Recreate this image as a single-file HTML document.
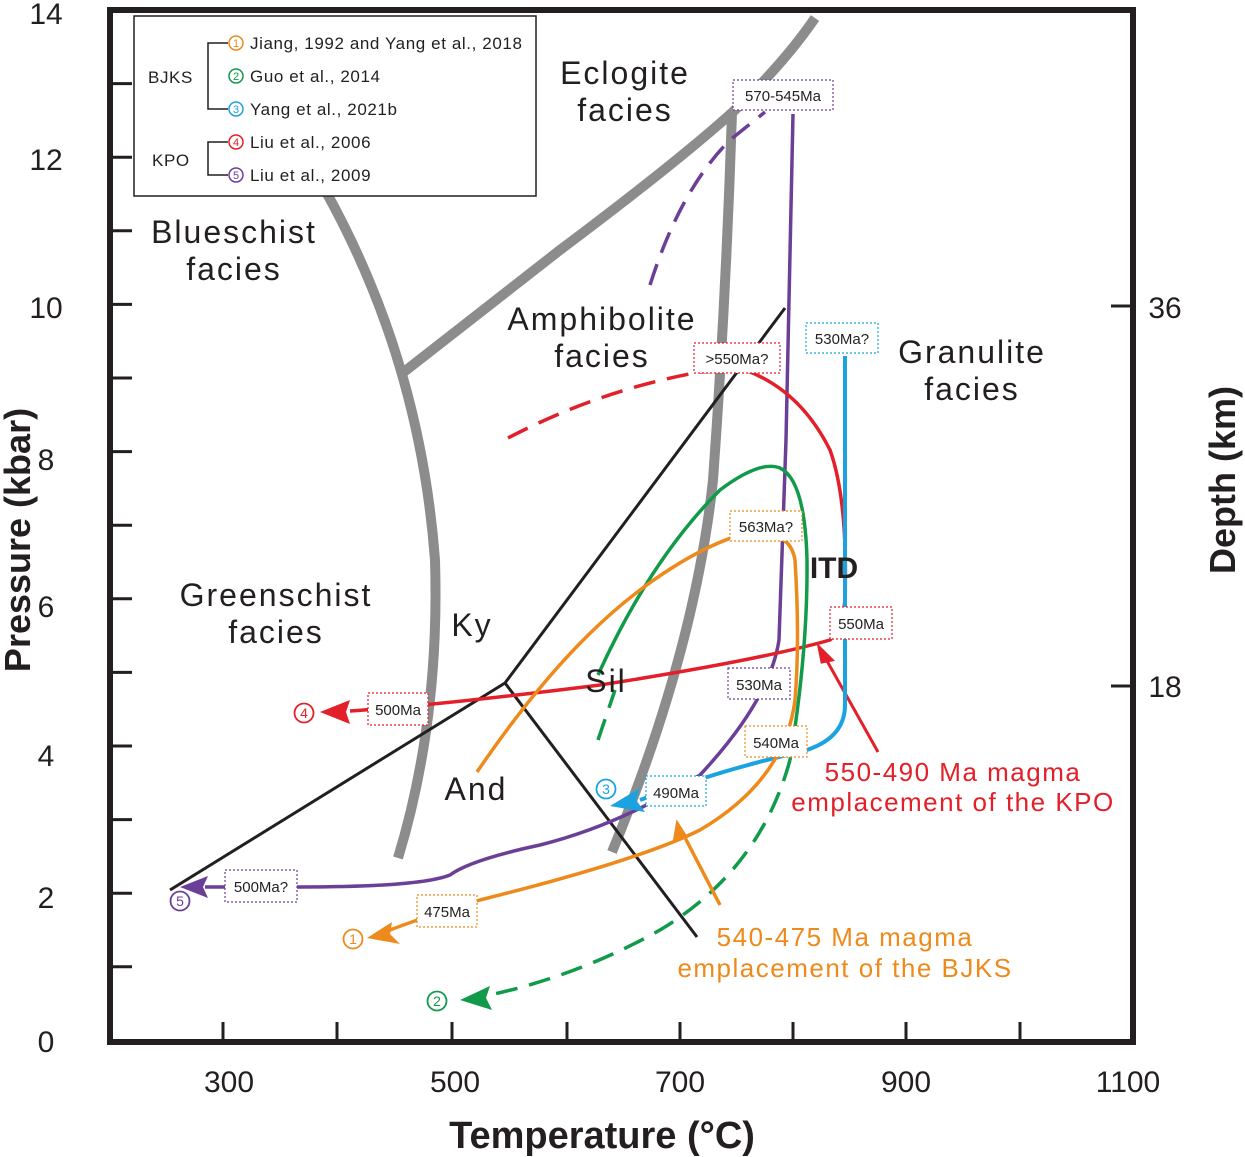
<!DOCTYPE html>
<html><head><meta charset="utf-8"><style>
html,body{margin:0;padding:0;background:#fff;}
svg{display:block;font-family:"Liberation Sans",Arial,sans-serif;}
</style></head><body>
<svg width="1245" height="1157" viewBox="0 0 1245 1157" xmlns="http://www.w3.org/2000/svg">
<!-- gray facies boundaries -->
<g fill="none" stroke="#8c8c8c" stroke-width="10" stroke-linecap="butt">
<path d="M325,190 Q420,360 435,560 Q440,720 398,858"/>
<path d="M400,375 L560,250 Q680,160 735,110 Q785,62 815,18"/>
<path d="M732,112 Q726,300 713,480 Q695,650 612,852"/>
</g>
<!-- black reaction lines -->
<g fill="none" stroke="#231f20" stroke-width="3">
<path d="M170,890 L505,683 L785,308"/>
<path d="M505,683 L697,937"/>
</g>
<!-- purple -->
<g fill="none" stroke="#6b3f97" stroke-width="3.5">
<path d="M793,114 L786,440 L779,640 Q770,700 700,775 Q620,825 540,845 Q470,860 450,875 Q420,887 300,887 L205,887"/>
<path d="M650,285 Q680,190 730,140 L765,112" stroke-dasharray="22,12"/>
</g>
<path d="M180,887 L208,876 L203,887 L208,898z" fill="#6b3f97"/>
<!-- red -->
<g fill="none" stroke="#e3202a" stroke-width="3.5">
<path d="M508,438 Q600,390 700,372" stroke-dasharray="22,12"/>
<path d="M700,372 L745,370 Q800,390 830,450 Q848,500 845,600 Q842,630 830,640 Q760,660 600,685 Q440,705 350,711"/>
</g>
<path d="M320,712 L350,700 L346,712 L350,724z" fill="#e3202a"/>
<path d="M878,752 L822,652" stroke="#e3202a" stroke-width="3" fill="none"/>
<path d="M819,647 L832,660 L822,662z" fill="#e3202a" stroke="#e3202a" stroke-width="3"/>
<!-- blue -->
<path d="M845,356 L845,705 Q845,740 800,752 Q720,770 640,800" fill="none" stroke="#1aa3e0" stroke-width="4"/>
<path d="M610,806 L640,788 L636,800 L645,812z" fill="#1aa3e0"/>
<!-- green -->
<g fill="none" stroke="#119a4a" stroke-width="3.5">
<path d="M598,675 Q650,560 720,490 Q760,460 780,468 Q805,480 807,560 Q808,650 790,760"/>
<path d="M598,740 L615,690" stroke-dasharray="22,12"/>
<path d="M790,760 Q760,870 660,930 Q580,975 490,995" stroke-dasharray="22,12"/>
</g>
<path d="M460,1000 L490,986 L486,998 L492,1010z" fill="#119a4a"/>
<!-- orange -->
<g fill="none" stroke="#ee8a1c" stroke-width="3.5">
<path d="M477,772 Q560,650 640,590 Q700,545 750,532 Q790,530 795,560 Q800,640 795,700 Q785,780 700,830 Q640,860 480,900 Q420,918 385,932"/>
<path d="M720,905 L680,828"/>
</g>
<path d="M367,938 L392,922 L390,934 L400,944z" fill="#ee8a1c"/>
<path d="M677,822 L674,840 L686,836z" fill="#ee8a1c" stroke="#ee8a1c" stroke-width="2"/>
<!-- frame -->
<rect x="110" y="10" width="1023" height="1032" fill="none" stroke="#231f20" stroke-width="6"/>
<g stroke="#231f20" stroke-width="3">
<path d="M110,83.6h22M110,157.2h22M110,230.8h22M110,304.4h22M110,378h22M110,451.6h22M110,525.2h22M110,598.8h22M110,672.4h22M110,746h22M110,819.6h22M110,893.2h22M110,966.8h22"/>
<path d="M1133,306h-22M1133,686h-22"/>
<path d="M223,1042v-20M337,1042v-20M452,1042v-20M567,1042v-20M680,1042v-20M793,1042v-20M906,1042v-20M1020,1042v-20"/>
</g>
<!-- tick labels -->
<g font-size="30" fill="#231f20" text-anchor="middle">
<text x="46" y="24">14</text><text x="46" y="170">12</text><text x="46" y="318">10</text>
<text x="46" y="470">8</text><text x="46" y="617">6</text><text x="46" y="766">4</text>
<text x="46" y="908">2</text><text x="46" y="1052">0</text>
<text x="1165" y="318">36</text><text x="1165" y="697">18</text>
<text x="229" y="1092">300</text><text x="455" y="1092">500</text><text x="680" y="1092">700</text><text x="906" y="1092">900</text><text x="1128" y="1092">1100</text>
</g>
<text x="602" y="1148" font-size="38" font-weight="bold" fill="#231f20" text-anchor="middle">Temperature (°C)</text>
<text transform="translate(30,540) rotate(-90)" font-size="36" font-weight="bold" fill="#231f20" text-anchor="middle">Pressure (kbar)</text>
<text transform="translate(1235,480) rotate(-90)" font-size="36" font-weight="bold" fill="#231f20" text-anchor="middle">Depth (km)</text>
<!-- facies labels -->
<g font-size="32" fill="#231f20" text-anchor="middle" letter-spacing="2">
<text x="625" y="84">Eclogite</text><text x="625" y="121">facies</text>
<text x="234" y="243">Blueschist</text><text x="234" y="280">facies</text>
<text x="602" y="330">Amphibolite</text><text x="602" y="367">facies</text>
<text x="972" y="363">Granulite</text><text x="972" y="400">facies</text>
<text x="276" y="606">Greenschist</text><text x="276" y="643">facies</text>
<text x="472" y="636">Ky</text><text x="606" y="692">Sil</text><text x="476" y="800">And</text>
</g>
<text x="834" y="578" font-size="30" font-weight="bold" fill="#231f20" text-anchor="middle">ITD</text>
<g font-size="26" text-anchor="middle" letter-spacing="1.5">
<text x="953" y="781" fill="#e3202a">550-490 Ma magma</text>
<text x="953" y="811" fill="#e3202a">emplacement of the KPO</text>
<text x="845" y="946" fill="#ee8a1c">540-475 Ma magma</text>
<text x="845" y="977" fill="#ee8a1c">emplacement of the BJKS</text>
</g>
<!-- age boxes -->
<g font-size="15" fill="#231f20" text-anchor="middle" stroke-dasharray="2,2" stroke-width="1.2">
<rect x="733" y="80" width="100" height="30" fill="#fff" stroke="#6b3f97"/><text x="783" y="101" stroke="none">570-545Ma</text>
<rect x="694" y="343" width="86" height="30" fill="#fff" stroke="#e3202a"/><text x="737" y="364" stroke="none">&gt;550Ma?</text>
<rect x="806" y="323" width="72" height="30" fill="#fff" stroke="#1aa3e0"/><text x="842" y="344" stroke="none">530Ma?</text>
<rect x="730" y="511" width="72" height="30" fill="#fff" stroke="#ee8a1c"/><text x="766" y="532" stroke="none">563Ma?</text>
<rect x="830" y="607" width="62" height="32" fill="#fff" stroke="#e3202a"/><text x="861" y="629" stroke="none">550Ma</text>
<rect x="728" y="668" width="62" height="31" fill="#fff" stroke="#6b3f97"/><text x="759" y="690" stroke="none">530Ma</text>
<rect x="745" y="726" width="62" height="31" fill="#fff" stroke="#ee8a1c"/><text x="776" y="748" stroke="none">540Ma</text>
<rect x="646" y="776" width="60" height="30" fill="#fff" stroke="#1aa3e0"/><text x="676" y="798" stroke="none">490Ma</text>
<rect x="368" y="693" width="60" height="32" fill="#fff" stroke="#e3202a"/><text x="398" y="715" stroke="none">500Ma</text>
<rect x="225" y="870" width="72" height="32" fill="#fff" stroke="#6b3f97"/><text x="261" y="892" stroke="none">500Ma?</text>
<rect x="417" y="895" width="60" height="32" fill="#fff" stroke="#ee8a1c"/><text x="447" y="917" stroke="none">475Ma</text>
</g>
<!-- circled numbers on plot -->
<g font-size="14" text-anchor="middle" fill="none" stroke-width="1.8">
<circle cx="304" cy="713" r="9.5" stroke="#e3202a"/><text x="304" y="718" fill="#e3202a" stroke="none">4</text>
<circle cx="180" cy="901" r="9.5" stroke="#6b3f97"/><text x="180" y="906" fill="#6b3f97" stroke="none">5</text>
<circle cx="353" cy="939" r="9.5" stroke="#ee8a1c"/><text x="353" y="944" fill="#ee8a1c" stroke="none">1</text>
<circle cx="437" cy="1001" r="9.5" stroke="#119a4a"/><text x="437" y="1006" fill="#119a4a" stroke="none">2</text>
<circle cx="606" cy="789" r="9.5" stroke="#1aa3e0"/><text x="606" y="794" fill="#1aa3e0" stroke="none">3</text>
</g>
<!-- legend -->
<rect x="134" y="16" width="402" height="180" fill="#fff" stroke="#231f20" stroke-width="1.5"/>
<g fill="none" stroke="#231f20" stroke-width="1.5">
<path d="M228,43 H208 V109 H228"/>
<path d="M228,142 H208 V175 H228"/>
</g>
<g font-size="17" fill="#231f20" letter-spacing="0.6">
<text x="148" y="83">BJKS</text><text x="152" y="166">KPO</text>
<text x="250" y="49">Jiang, 1992 and Yang et al., 2018</text>
<text x="250" y="82">Guo et al., 2014</text>
<text x="250" y="115">Yang et al., 2021b</text>
<text x="250" y="148">Liu et al., 2006</text>
<text x="250" y="181">Liu et al., 2009</text>
</g>
<g font-size="11" text-anchor="middle" fill="none" stroke-width="1.5">
<circle cx="236" cy="43" r="7" stroke="#ee8a1c"/><text x="236" y="47" fill="#ee8a1c" stroke="none">1</text>
<circle cx="236" cy="76" r="7" stroke="#119a4a"/><text x="236" y="80" fill="#119a4a" stroke="none">2</text>
<circle cx="236" cy="109" r="7" stroke="#1aa3e0"/><text x="236" y="113" fill="#1aa3e0" stroke="none">3</text>
<circle cx="236" cy="142" r="7" stroke="#e3202a"/><text x="236" y="146" fill="#e3202a" stroke="none">4</text>
<circle cx="236" cy="175" r="7" stroke="#6b3f97"/><text x="236" y="179" fill="#6b3f97" stroke="none">5</text>
</g>
</svg>
</body></html>
